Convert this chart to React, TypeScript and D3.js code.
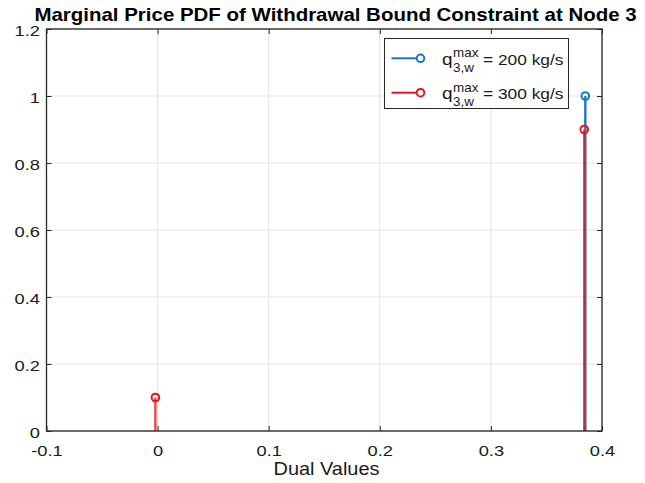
import { useEffect, useRef } from "react";
import * as d3 from "d3";

const xTicks = [-0.1, 0, 0.1, 0.2, 0.3, 0.4];
const yTicks = [0, 0.2, 0.4, 0.6, 0.8, 1, 1.2];
const dual200 = [0.385];
const pdf200 = [1.0];
const dual300 = [-0.002, 0.384];
const pdf300 = [0.1, 0.9];
const seriesNames = ["200", "300"];

const BLUE = "#1a78c2";
const RED = "#e8141c";
const FONT = "'Liberation Sans', Arial, Helvetica, sans-serif";
const SX = 1.18; // glyphs in the reference are a bit wide

export default function App() {
  const ref = useRef<SVGSVGElement>(null);

  useEffect(() => {
    if (!ref.current) return;
    const W = 645, H = 483;
    const ML = 46.5, MR = 43, MT = 29, MB = 52;
    const iW = W - ML - MR, iH = H - MT - MB;

    const svg = d3.select(ref.current).attr("width", W).attr("height", H);
    svg.selectAll("*").remove();
    svg.append("rect").attr("width", W).attr("height", H).attr("fill", "#fff");
    const g = svg.append("g").attr("transform", `translate(${ML},${MT})`);

    const x = d3.scaleLinear().domain([-0.1, 0.4]).range([0, iW]);
    const y = d3.scaleLinear().domain([0, 1.2]).range([iH, 0]);

    const label = (parent: any, tx: number, ty: number, str: string, size: number,
                   anchor = "start", sx = SX, weight = "normal") =>
      parent.append("text")
        .attr("transform", `translate(${tx},${ty}) scale(${sx},1)`)
        .attr("text-anchor", anchor).attr("font-size", size).attr("font-weight", weight)
        .attr("font-family", FONT).attr("fill", "#1a1a1a").text(str);

    // Grid
    g.append("g").selectAll("line").data(xTicks).enter().append("line")
      .attr("x1", d => x(d)).attr("x2", d => x(d)).attr("y1", 0).attr("y2", iH)
      .attr("stroke", "#e3e3e3").attr("stroke-width", 1);
    g.append("g").selectAll("line").data(yTicks).enter().append("line")
      .attr("y1", d => y(d)).attr("y2", d => y(d)).attr("x1", 0).attr("x2", iW)
      .attr("stroke", "#e3e3e3").attr("stroke-width", 1);

    // Stems
    const drawSeries = (xs: number[], ys: number[], color: string, op: number) => {
      const s = g.append("g");
      xs.forEach((xv, i) => {
        s.append("line")
          .attr("x1", x(xv)).attr("x2", x(xv)).attr("y1", y(0)).attr("y2", y(ys[i]))
          .attr("stroke", color).attr("stroke-width", 2.4).attr("stroke-opacity", op);
        s.append("circle")
          .attr("cx", x(xv)).attr("cy", y(ys[i])).attr("r", 3.8)
          .attr("fill", "none").attr("stroke", color).attr("stroke-width", 2);
      });
    };
    drawSeries(dual200, pdf200, BLUE, 1);
    drawSeries(dual300, pdf300, RED, 0.8);

    // Axes (box with inner ticks)
    const tl = 5;
    g.append("g").attr("transform", `translate(0,${iH})`)
      .call(d3.axisBottom(x).tickValues(xTicks).tickSize(-tl).tickFormat(d => `${d}`))
      .call(a => a.select(".domain").remove())
      .call(a => a.selectAll("line").attr("stroke", "#262626"))
      .call(a => a.selectAll("text").attr("font-size", 15.5).attr("font-family", FONT)
        .attr("fill", "#1a1a1a").attr("dy", 0).attr("y", 25)
        .attr("transform", `scale(${SX},1)`));
    g.append("g")
      .call(d3.axisTop(x).tickValues(xTicks).tickSize(-tl).tickFormat(() => ""))
      .call(a => a.select(".domain").remove())
      .call(a => a.selectAll("line").attr("stroke", "#262626"));
    g.append("g")
      .call(d3.axisLeft(y).tickValues(yTicks).tickSize(-tl).tickFormat(d => `${d}`))
      .call(a => a.select(".domain").remove())
      .call(a => a.selectAll("line").attr("stroke", "#262626"))
      .call(a => a.selectAll("text").attr("font-size", 15.5).attr("font-family", FONT)
        .attr("fill", "#1a1a1a").attr("x", -6.5 / SX).attr("dy", "0.4em")
        .attr("transform", `scale(${SX},1)`));
    g.append("g").attr("transform", `translate(${iW},0)`)
      .call(d3.axisRight(y).tickValues(yTicks).tickSize(-tl).tickFormat(() => ""))
      .call(a => a.select(".domain").remove())
      .call(a => a.selectAll("line").attr("stroke", "#262626"));
    g.append("rect").attr("width", iW).attr("height", iH)
      .attr("fill", "none").attr("stroke", "#262626").attr("stroke-width", 1.3);

    // Title and axis label
    label(svg, 335.5, 20.5, "Marginal Price PDF of Withdrawal Bound Constraint at Node 3",
      18.6, "middle", 1.1, "bold").attr("fill", "#000");
    label(svg, 326.5, 475, "Dual Values", 17.5, "middle", 1.14);

    // Legend
    const lg = svg.append("g").attr("transform", "translate(384.5,38.5)");
    lg.append("rect").attr("width", 184).attr("height", 70)
      .attr("fill", "#fff").attr("stroke", "#262626").attr("stroke-width", 1);
    const colors = [BLUE, RED];
    seriesNames.forEach((name, i) => {
      const cy = 19.8 + i * 34.4;
      lg.append("line").attr("x1", 7).attr("x2", 38).attr("y1", cy).attr("y2", cy)
        .attr("stroke", colors[i]).attr("stroke-width", 2);
      lg.append("circle").attr("cx", 36).attr("cy", cy).attr("r", 3.8)
        .attr("fill", "#fff").attr("stroke", colors[i]).attr("stroke-width", 2);
      label(lg, 57.5, cy + 6.5, "q", 17, "start", 1.12);
      label(lg, 68.5, cy - 1, "max", 12, "start", 1.12);
      label(lg, 68.5, cy + 13.5, "3,w", 12, "start", 1.12);
      label(lg, 98.5, cy + 6.5, `= ${name} kg/s`, 15.5, "start", 1.12);
    });
  }, []);

  return (
    <div style={{ margin: -8 }}>
      <svg ref={ref} style={{ display: "block" }} />
    </div>
  );
}
